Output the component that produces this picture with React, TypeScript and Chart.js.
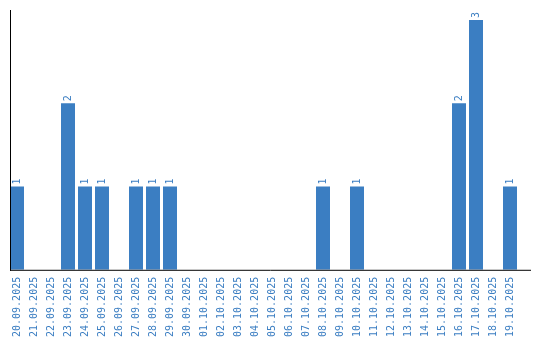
import React, { useEffect, useRef } from "react";
import { Chart, registerables } from "chart.js";

Chart.register(...registerables);

const categories: string[] = [
  "20.09.2025", "21.09.2025", "22.09.2025", "23.09.2025", "24.09.2025",
  "25.09.2025", "26.09.2025", "27.09.2025", "28.09.2025", "29.09.2025",
  "30.09.2025", "01.10.2025", "02.10.2025", "03.10.2025", "04.10.2025",
  "05.10.2025", "06.10.2025", "07.10.2025", "08.10.2025", "09.10.2025",
  "10.10.2025", "11.10.2025", "12.10.2025", "13.10.2025", "14.10.2025",
  "15.10.2025", "16.10.2025", "17.10.2025", "18.10.2025", "19.10.2025",
];

const counts: number[] = [
  1, 0, 0, 2, 1, 1, 0, 1, 1, 1,
  0, 0, 0, 0, 0, 0, 0, 0, 1, 0,
  1, 0, 0, 0, 0, 0, 2, 3, 0, 1,
];

const BLUE = "#3b7ec2";
const FONT = "'DejaVu Sans Mono', monospace";

const axisLinesPlugin = {
  id: "axisLines",
  afterDatasetsDraw(chart: any) {
    const { ctx, chartArea } = chart;
    ctx.save();
    ctx.strokeStyle = "#000";
    ctx.lineWidth = 1;
    ctx.beginPath();
    ctx.moveTo(10.5, chartArea.top);
    ctx.lineTo(10.5, chartArea.bottom + 1);
    ctx.moveTo(10, chartArea.bottom + 0.5);
    ctx.lineTo(531, chartArea.bottom + 0.5);
    ctx.stroke();
    ctx.restore();
  },
};

const valueLabelPlugin = {
  id: "valueLabels",
  afterDatasetsDraw(chart: any) {
    const { ctx } = chart;
    const meta = chart.getDatasetMeta(0);
    const data = chart.data.datasets[0].data as number[];
    ctx.save();
    ctx.fillStyle = BLUE;
    ctx.font = `10px ${FONT}`;
    ctx.textAlign = "left";
    ctx.textBaseline = "middle";
    meta.data.forEach((bar: any, i: number) => {
      const v = data[i];
      if (!v) return;
      ctx.save();
      ctx.translate(bar.x, bar.y - 2);
      ctx.rotate(-Math.PI / 2);
      ctx.fillText(String(v), 0, 0);
      ctx.restore();
    });
    ctx.restore();
  },
};

export default function App() {
  const canvasRef = useRef<HTMLCanvasElement | null>(null);

  useEffect(() => {
    document.body.style.margin = "0";
    const canvas = canvasRef.current;
    if (!canvas) return;
    const chart = new Chart(canvas, {
      type: "bar",
      data: {
        labels: categories,
        datasets: [
          {
            data: counts,
            backgroundColor: BLUE,
            borderWidth: 0,
            barPercentage: 14 / 17,
            categoryPercentage: 1,
          },
        ],
      },
      options: {
        animation: false,
        responsive: false,
        maintainAspectRatio: false,
        layout: { padding: { left: 8.5, right: 21.5, top: 10, bottom: -4 } },
        plugins: {
          legend: { display: false },
          tooltip: { enabled: false },
        },
        scales: {
          x: {
            offset: true,
            grid: { display: false, drawTicks: false },
            border: { display: false },
            ticks: {
              color: BLUE,
              font: { family: FONT, size: 10 },
              maxRotation: 90,
              minRotation: 90,
              autoSkip: false,
              padding: 7,
            },
          },
          y: {
            display: false,
            min: 0,
            max: 3.12,
          },
        },
      },
      plugins: [axisLinesPlugin, valueLabelPlugin],
    });
    return () => chart.destroy();
  }, []);

  return (
    <div style={{ width: 540, height: 340 }}>
      <canvas ref={canvasRef} width={540} height={340} style={{ display: "block" }} />
    </div>
  );
}
